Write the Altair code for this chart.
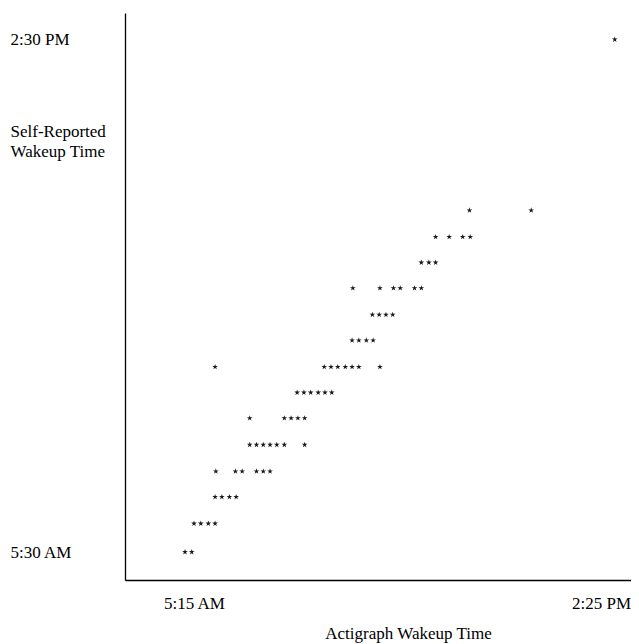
import altair as alt
import pandas as pd

# Each entry is one "*" of the plot: actigraph wakeup time vs self-reported wakeup time (H:MM, 24h)
actigraph = [
    "5:03", "5:12",
    "5:15", "5:24", "5:34", "5:43",
    "5:43", "5:52", "6:02", "6:11",
    "5:44", "6:10", "6:19", "6:38", "6:47", "6:56",
    "6:29", "6:38", "6:47", "6:56", "7:05", "7:15", "7:42",
    "6:29", "7:15", "7:24", "7:33", "7:42",
    "7:32", "7:41", "7:50", "8:00", "8:09", "8:18",
    "5:43", "8:08", "8:17", "8:26", "8:36", "8:45", "8:54", "9:22",
    "8:45", "8:54", "9:04", "9:13",
    "9:12", "9:21", "9:30", "9:39",
    "8:46", "9:22", "9:40", "9:49", "10:08", "10:17",
    "10:17", "10:27", "10:36",
    "10:36", "10:54", "11:12", "11:22",
    "11:21", "12:43",
    "14:34",
]
self_reported = [
    "5:30", "5:30",
    "6:00", "6:00", "6:00", "6:00",
    "6:28", "6:28", "6:28", "6:28",
    "6:55", "6:55", "6:55", "6:55", "6:55", "6:55",
    "7:23", "7:23", "7:23", "7:23", "7:23", "7:23", "7:23",
    "7:51", "7:51", "7:51", "7:51", "7:51",
    "8:18", "8:18", "8:18", "8:18", "8:18", "8:18",
    "8:45", "8:45", "8:45", "8:45", "8:45", "8:45", "8:45", "8:45",
    "9:13", "9:13", "9:13", "9:13",
    "9:40", "9:40", "9:40", "9:40",
    "10:08", "10:08", "10:08", "10:08", "10:08", "10:08",
    "10:35", "10:35", "10:35",
    "11:02", "11:02", "11:02", "11:02",
    "11:30", "11:30",
    "14:30",
]

x_ticks = ["5:15", "14:25"]
y_ticks = ["5:30", "14:30"]


def to_min(s):
    h, m = s.split(":")
    return int(h) * 60 + int(m)


df = pd.DataFrame({
    "actigraph": [to_min(s) for s in actigraph],
    "self_reported": [to_min(s) for s in self_reported],
})

fmt = ("(floor(datum.value/60)%12==0?12:floor(datum.value/60)%12)+':'+"
       "(datum.value%60<10?'0':'')+(datum.value%60)+(datum.value<720?' AM':' PM')")

FONT = "Liberation Serif"
STAR = ("M0,-1L0.2245,-0.309L0.951,-0.309L0.363,0.118L0.588,0.809L0,0.382"
        "L-0.588,0.809L-0.363,0.118L-0.951,-0.309L-0.2245,-0.309Z")

chart = alt.Chart(df).mark_point(
    shape=STAR, filled=True, size=36, color="#1a1a1a", opacity=1
).encode(
    x=alt.X(
        "actigraph:Q",
        scale=alt.Scale(domain=[223.3, 895.6], nice=False, zero=False),
        axis=alt.Axis(
            values=[to_min(v) for v in x_ticks], labelExpr=fmt,
            ticks=False, tickSize=0, grid=False,
            domainColor="black", domainWidth=1.3,
            labelFont=FONT, labelFontSize=17, labelColor="black",
            labelPadding=23, labelBaseline="middle", labelFlush=False, labelOverlap=False,
            labelOffset={"condition": {"test": "datum.value > 800", "value": -7}, "value": 0},
            title="Actigraph Wakeup Time", titleFont=FONT, titleFontSize=17,
            titleFontWeight="normal", titleColor="black",
            titleX=283, titleY=53, titleAlign="center", titleBaseline="middle",
        ),
    ),
    y=alt.Y(
        "self_reported:Q",
        scale=alt.Scale(domain=[300.5, 897.9], nice=False, zero=False),
        axis=alt.Axis(
            values=[to_min(v) for v in y_ticks], labelExpr=fmt,
            ticks=False, tickSize=0, grid=False,
            domainColor="black", domainWidth=1.3,
            labelFont=FONT, labelFontSize=17, labelColor="black",
            labelPadding=115, labelAlign="left", labelBaseline="middle",
            labelFlush=False, labelOverlap=False,
            title=["Self-Reported", "Wakeup Time"], titleFont=FONT, titleFontSize=17,
            titleFontWeight="normal", titleColor="black", titleAngle=0,
            titleAlign="left", titleBaseline="alphabetic",
            titleX=-115, titleY=123, titleLineHeight=20,
        ),
    ),
).properties(
    width=506,
    height=567,
    padding={"left": 117, "top": 5, "right": 0, "bottom": 70},
    autosize=alt.AutoSizeParams(type="none"),
).configure_view(stroke=None)

chart.save("out.html", embed_options={"renderer": "svg", "actions": False})
